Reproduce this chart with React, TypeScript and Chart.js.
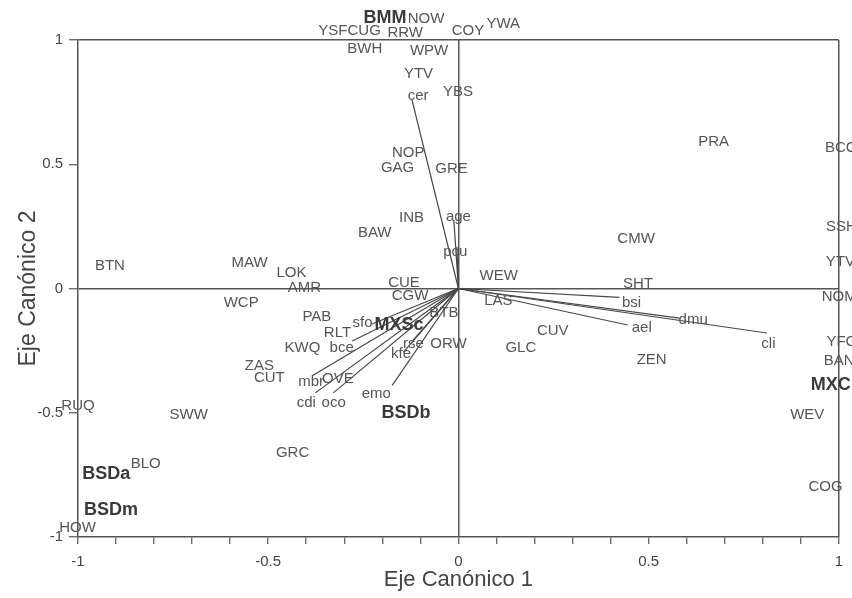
import React, { useEffect, useRef } from "react";
import { Chart, registerables } from "chart.js";

Chart.register(...registerables);

// Site labels (regular)
const siteNames = [
  "YSFCUG", "NOW", "RRW", "COY", "YWA", "BWH", "WPW", "YTV", "YBS", "NOP",
  "GAG", "GRE", "INB", "BAW", "WEW", "CUE", "CGW", "BTN", "MAW", "LOK",
  "AMR", "WCP", "ZAS", "CUT", "RUQ", "SWW", "PAB", "RLT", "KWQ", "BTB",
  "ORW", "OVE", "LAS", "SHT", "CUV", "GLC", "ZEN", "CMW", "PRA", "BCC",
  "SSH", "YTV", "NOM", "YFG", "BAN", "WEV", "COG", "BLO", "HOW", "GRC",
];
const siteX = [
  -0.286, -0.085, -0.14, 0.025, 0.118, -0.246, -0.077, -0.105, -0.001, -0.132,
  -0.16, -0.018, -0.123, -0.22, 0.106, -0.143, -0.127, -0.916, -0.549, -0.439,
  -0.405, -0.571, -0.523, -0.497, -1.0, -0.709, -0.372, -0.318, -0.41, -0.038,
  -0.026, -0.317, 0.105, 0.472, 0.248, 0.164, 0.508, 0.467, 0.671, 1.005,
  1.007, 1.004, 1.001, 1.008, 1.001, 0.917, 0.965, -0.822, -1.001, -0.436,
];
const siteY = [
  1.036, 1.085, 1.028, 1.036, 1.064, 0.964, 0.956, 0.865, 0.793, 0.547,
  0.485, 0.483, 0.284, 0.225, 0.05, 0.024, -0.03, 0.091, 0.105, 0.064,
  0.004, -0.056, -0.312, -0.358, -0.473, -0.509, -0.113, -0.177, -0.237, -0.097,
  -0.221, -0.364, -0.05, 0.018, -0.171, -0.237, -0.288, 0.201, 0.592, 0.567,
  0.249, 0.107, -0.032, -0.213, -0.292, -0.509, -0.797, -0.706, -0.962, -0.66,
];

// Group labels (bold)
const groupNames = ["BMM", "MXSc", "BSDb", "BSDa", "BSDm", "MXC"];
const groupX = [-0.193, -0.156, -0.138, -0.926, -0.913, 0.979];
const groupY = [1.087, -0.147, -0.503, -0.748, -0.891, -0.388];

// Environmental vectors
const envNames = ["cer", "age", "pcu", "sfo", "bce", "mbr", "cdi", "oco", "emo", "kfe", "rse", "bsi", "ael", "dmu", "cli"];
const envX = [-0.122, -0.012, -0.004, -0.227, -0.279, -0.383, -0.376, -0.329, -0.174, -0.145, -0.12, 0.423, 0.445, 0.581, 0.811];
const envY = [0.759, 0.275, 0.168, -0.143, -0.211, -0.35, -0.42, -0.42, -0.39, -0.257, -0.21, -0.036, -0.147, -0.119, -0.179];
const envLabelX = [-0.106, 0.0, -0.008, -0.252, -0.307, -0.387, -0.4, -0.328, -0.216, -0.151, -0.118, 0.455, 0.482, 0.617, 0.815];
const envLabelY = [0.775, 0.29, 0.147, -0.139, -0.237, -0.376, -0.459, -0.459, -0.425, -0.264, -0.223, -0.056, -0.157, -0.127, -0.223];

const xTitle = "Eje Canónico 1";
const yTitle = "Eje Canónico 2";

const FONT = "Arial, 'Liberation Sans', Helvetica, sans-serif";

export default function App() {
  const ref = useRef<HTMLCanvasElement>(null);

  useEffect(() => {
    const canvas = ref.current;
    if (!canvas) return;
    const ctx = canvas.getContext("2d");
    if (!ctx) return;

    const datasets = envNames.map((n, i) => ({
      label: n,
      data: [
        { x: 0, y: 0 },
        { x: envX[i], y: envY[i] },
      ],
      showLine: true,
      borderColor: "#474747",
      borderWidth: 1.2,
      pointRadius: 0,
      pointHoverRadius: 0,
      clip: false as any,
    }));

    const near = (a: number, b: number) => Math.abs(a - b) < 1e-6;

    const labelPlugin = {
      id: "textLabels",
      afterDatasetsDraw(chart: any) {
        const c = chart.ctx;
        const xs = chart.scales.x;
        const ys = chart.scales.y;
        c.save();
        c.textAlign = "center";
        c.textBaseline = "middle";
        c.fillStyle = "#555";
        c.font = `15px ${FONT}`;
        siteNames.forEach((n, i) => {
          c.fillText(n, xs.getPixelForValue(siteX[i]), ys.getPixelForValue(siteY[i]));
        });
        envNames.forEach((n, i) => {
          c.fillText(n, xs.getPixelForValue(envLabelX[i]), ys.getPixelForValue(envLabelY[i]));
        });
        c.fillStyle = "#3a3a3a";
        c.font = `bold 18px ${FONT}`;
        groupNames.forEach((n, i) => {
          c.fillText(n, xs.getPixelForValue(groupX[i]), ys.getPixelForValue(groupY[i]));
        });
        c.restore();
      },
      afterDraw(chart: any) {
        const c = chart.ctx;
        const area = chart.chartArea;
        c.save();
        c.fillStyle = "#444";
        c.textAlign = "center";
        c.textBaseline = "middle";
        c.font = `22px ${FONT}`;
        c.fillText(xTitle, (area.left + area.right) / 2, 580);
        c.translate(29, (area.top + area.bottom) / 2);
        c.rotate(-Math.PI / 2);
        c.font = `23px ${FONT}`;
        c.fillText(yTitle, 0, 0);
        c.restore();
      },
    };

    const chart = new Chart(ctx, {
      type: "scatter",
      data: { datasets: datasets as any },
      options: {
        animation: false,
        responsive: false,
        devicePixelRatio: 1,
        events: [],
        layout: { padding: { left: 0, right: 12, top: 40, bottom: 0 } },
        plugins: {
          legend: { display: false },
          tooltip: { enabled: false },
        },
        scales: {
          x: {
            type: "linear",
            min: -1,
            max: 1,
            afterFit: (s: any) => {
              s.height = 61;
            },
            border: { display: true, color: "#555", width: 1.5 },
            grid: {
              drawOnChartArea: true,
              color: (c: any) =>
                c.tick && (near(c.tick.value, 0) || near(c.tick.value, 1)) ? "#555" : "rgba(0,0,0,0)",
              lineWidth: 1.5,
              tickColor: "#555",
              tickLength: 7,
              tickWidth: 1.2,
            },
            ticks: {
              stepSize: 0.1,
              autoSkip: false,
              maxRotation: 0,
              padding: 9,
              color: "#444",
              font: { family: FONT, size: 15 },
              callback: (v: any) => {
                const n = Number(v);
                if (Math.abs(n * 2 - Math.round(n * 2)) < 1e-6) return String(Math.round(n * 10) / 10);
                return "";
              },
            },
          },
          y: {
            type: "linear",
            min: -1,
            max: 1,
            afterFit: (s: any) => {
              s.width = 78;
            },
            border: { display: true, color: "#555", width: 1.5 },
            grid: {
              drawOnChartArea: true,
              color: (c: any) =>
                c.tick && (near(c.tick.value, 0) || near(c.tick.value, 1)) ? "#555" : "rgba(0,0,0,0)",
              lineWidth: 1.5,
              tickColor: "#555",
              tickLength: 9,
              tickWidth: 1.2,
            },
            ticks: {
              stepSize: 0.5,
              padding: 6,
              color: "#444",
              font: { family: FONT, size: 15 },
              callback: (v: any) => String(Math.round(Number(v) * 10) / 10),
            },
          },
        },
      },
      plugins: [labelPlugin],
    });

    return () => chart.destroy();
  }, []);

  return (
    <div style={{ position: "fixed", left: 0, top: 0, width: 852, height: 598, background: "#fff" }}>
      <canvas ref={ref} width={852} height={598} style={{ display: "block", width: 852, height: 598 }} />
    </div>
  );
}
